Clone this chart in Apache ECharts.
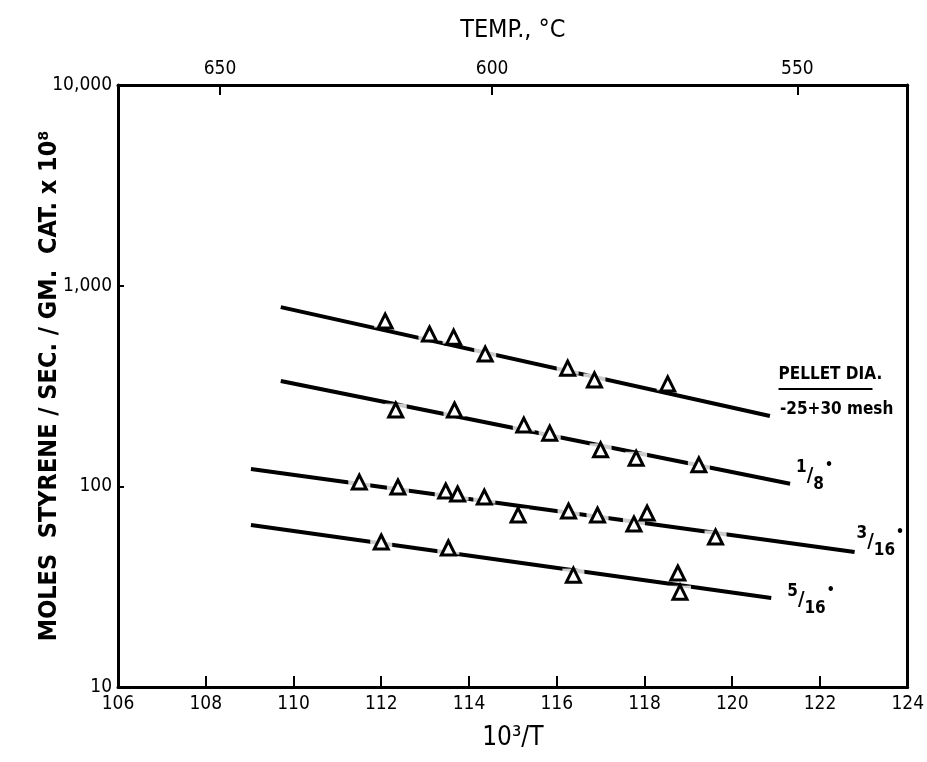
<!DOCTYPE html>
<html>
<head>
<meta charset="utf-8">
<script src="https://cdn.jsdelivr.net/npm/echarts@6/dist/echarts.min.js"></script>
<style>
  html, body { margin: 0; padding: 0; background: #fff; }
  #chart { width: 927px; height: 762px; }
</style>
</head>
<body>
<div id="chart"></div>
<script>
// Styrene rate vs reciprocal temperature for four pellet sizes
const FONT = "'DejaVu Sans Condensed', 'Liberation Sans Narrow', 'DejaVu Sans', sans-serif";

const xTicks = [106, 108, 110, 112, 114, 116, 118, 120, 122, 124];
const yTicks = [10, 100, 1000, 10000];
const tempTicksC = [650, 600, 550];

// fitted lines (10^3/T, rate) — start and end points
const meshLine   = [[109.71, 782], [120.86, 224]];
const eighthLine = [[109.71, 335], [121.32, 103]];
const threeLine  = [[109.03, 122], [122.79, 47.1]];
const fiveLine   = [[109.03, 64.1], [120.89, 27.8]];

// measured points
const meshPts = [[112.09, 666], [113.10, 574], [113.65, 554], [114.37, 456], [116.25, 388], [116.86, 339], [118.53, 324]];
const eighthPts = [[112.33, 240], [113.67, 240], [115.25, 202], [115.84, 184], [117.00, 152], [117.81, 138], [119.24, 128]];
const threePts = [[111.50, 105], [112.38, 99.2], [113.47, 94.8], [113.74, 91.6], [114.35, 88.4], [115.12, 71.9], [116.27, 75.3], [116.93, 71.9], [117.76, 64.9], [118.06, 73.6], [119.62, 55.9]];
const fivePts = [[112.00, 52.8], [113.53, 49.3], [116.38, 36.1], [118.76, 37.0], [118.81, 29.7]];

// temperature (°C) -> 10^3/T axis units (T in K, scaled by 100)
const toRecip = c => 1e5 / (c + 273.15);

const fracRich = {
  n:   { fontFamily: FONT, fontSize: 17, fontWeight: 'bold', color: '#000', verticalAlign: 'top', lineHeight: 34 },
  sl:  { fontFamily: FONT, fontSize: 20, fontWeight: 'bold', color: '#000', lineHeight: 34 },
  d:   { fontFamily: FONT, fontSize: 17, fontWeight: 'bold', color: '#000', verticalAlign: 'bottom', lineHeight: 34 },
  dot: { fontFamily: FONT, fontSize: 14, fontWeight: 'bold', color: '#000', verticalAlign: 'top', lineHeight: 34, padding: [0, 0, 0, 1] },
  m:   { fontFamily: FONT, fontSize: 17, fontWeight: 'bold', color: '#000' }
};

function fitLine(data, label, offset) {
  return {
    type: 'line', data: data, symbol: 'none', z: 2, silent: true,
    lineStyle: { color: '#000', width: 4 },
    endLabel: { show: true, formatter: label, rich: fracRich, offset: offset, distance: 6 }
  };
}
// white patch behind each point leaves a break in the fitted line
function halo(data) {
  return { type: 'scatter', data: data, symbol: 'rect', symbolSize: [22, 13], z: 3, silent: true,
           itemStyle: { color: '#fff', borderWidth: 0 } };
}
function marks(data) {
  return { type: 'scatter', data: data, symbol: 'triangle', symbolSize: [14, 14], z: 4, silent: true,
           itemStyle: { color: '#fff', borderColor: '#000', borderWidth: 3, opacity: 1 } };
}

const chart = echarts.init(document.getElementById('chart'));
chart.setOption({
  animation: false,
  backgroundColor: '#fff',
  grid: { left: 118, right: 19, top: 85, bottom: 75, containLabel: false },
  xAxis: [{
    type: 'value', min: 106, max: 124, interval: 2, position: 'bottom',
    axisLine: { lineStyle: { color: '#000', width: 3 } },
    axisTick: { inside: true, length: 11, lineStyle: { color: '#000', width: 2 } },
    splitLine: { show: false },
    axisLabel: { fontFamily: FONT, fontSize: 19, color: '#000', margin: 8,
                 customValues: xTicks, formatter: v => String(v) },
    name: '10³/T', nameLocation: 'middle', nameGap: 38,
    nameTextStyle: { fontFamily: FONT, fontSize: 26, color: '#000' }
  }, {
    type: 'value', min: 106, max: 124, position: 'top',
    axisLine: { lineStyle: { color: '#000', width: 3 } },
    axisTick: { inside: true, length: 10, lineStyle: { color: '#000', width: 2 },
                customValues: tempTicksC.map(toRecip) },
    splitLine: { show: false },
    axisLabel: { fontFamily: FONT, fontSize: 19, color: '#000', margin: 6,
                 customValues: tempTicksC.map(toRecip),
                 formatter: v => String(Math.round(1e5 / v - 273.15)) },
    name: 'TEMP., °C', nameLocation: 'middle', nameGap: 42,
    nameTextStyle: { fontFamily: FONT, fontSize: 25, color: '#000' }
  }],
  yAxis: [{
    type: 'log', min: 10, max: 10000, logBase: 10,
    axisLine: { show: true, lineStyle: { color: '#000', width: 3 } },
    axisTick: { show: true, inside: true, length: 6, lineStyle: { color: '#000', width: 2 } },
    minorTick: { show: false },
    splitLine: { show: false },
    axisLabel: { fontFamily: FONT, fontSize: 19, color: '#000', margin: 6,
                 customValues: yTicks,
                 formatter: v => Number(v).toLocaleString('en-US') },
    name: 'MOLES  STYRENE / SEC. / GM.  CAT. x 10⁸', nameLocation: 'middle', nameGap: 56,
    nameMoveOverlap: false,
    nameRotate: 90,
    nameTextStyle: { fontFamily: FONT, fontSize: 25, fontWeight: 'bold', color: '#000' }
  }, {
    type: 'log', min: 10, max: 10000, position: 'right',
    axisLine: { show: true, lineStyle: { color: '#000', width: 3 } },
    axisTick: { show: false }, axisLabel: { show: false }, splitLine: { show: false }
  }],
  graphic: [{
    type: 'group', left: 776, top: 366,
    children: [
      { type: 'text', style: { text: 'PELLET DIA.', fontFamily: FONT, fontSize: 17, fontWeight: 'bold', fill: '#000' } },
      { type: 'line', shape: { x1: 0, y1: 23, x2: 94, y2: 23 }, style: { stroke: '#000', lineWidth: 2 } }
    ]
  }],
  series: [
    fitLine(meshLine, '{m|-25+30 mesh}', [4, -6]),
    fitLine(eighthLine, '{n|1}{sl|/}{d|8}{dot|•}', [0, -8]),
    fitLine(threeLine, '{n|3}{sl|/}{d|16}{dot|•}', [-4, -10]),
    fitLine(fiveLine, '{n|5}{sl|/}{d|16}{dot|•}', [10, 2]),
    halo(meshPts), halo(eighthPts), halo(threePts), halo(fivePts),
    marks(meshPts), marks(eighthPts), marks(threePts), marks(fivePts)
  ]
});
</script>
</body>
</html>
